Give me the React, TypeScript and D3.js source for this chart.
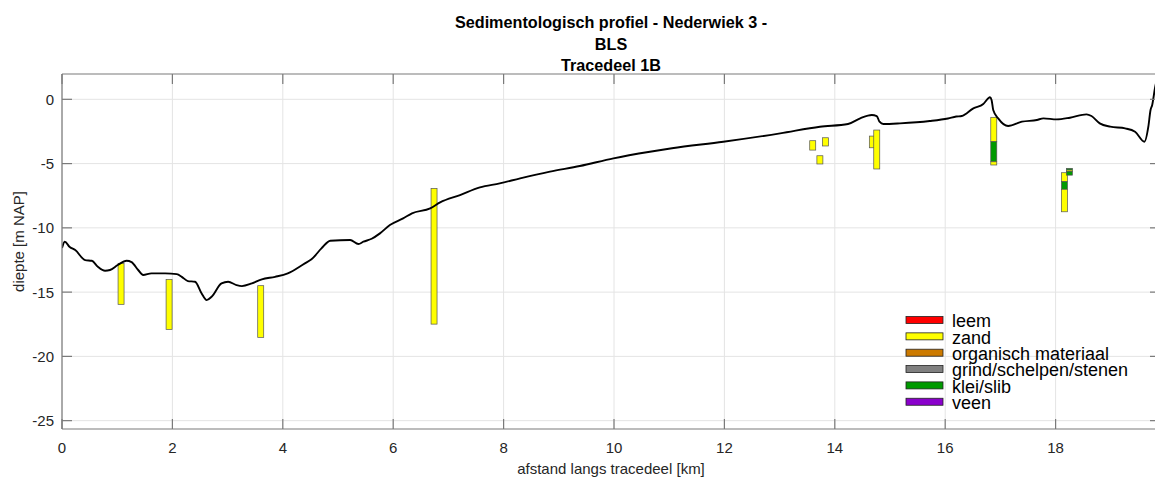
import React from 'react';
import * as d3 from 'd3';

// seabed profile (km along trace, m NAP)
const profileKm = [
  0.0, 0.05, 0.14, 0.24, 0.42, 0.54, 0.65, 0.78, 0.87, 1.01, 1.17, 1.26, 1.38, 1.47, 1.62, 1.87,
  2.08, 2.17, 2.28, 2.41, 2.53, 2.62, 2.71, 2.89, 3.01, 3.16, 3.26, 3.44, 3.62, 3.86, 4.09, 4.4,
  4.52, 4.7, 4.86, 5.22, 5.37, 5.46, 5.61, 5.76, 5.94, 6.18, 6.34, 6.67, 6.85, 7.21, 7.57, 7.93,
  8.3, 8.84, 9.38, 9.99, 10.65, 11.05, 11.98, 13.01, 13.73, 14.24, 14.46, 14.67, 14.76, 14.81,
  14.88, 15.18, 15.72, 16.05, 16.2, 16.3, 16.51, 16.69, 16.78, 16.81, 16.84, 16.87, 16.96, 17.14,
  17.39, 17.66, 17.78, 18.02, 18.26, 18.56, 18.65, 18.8, 18.99, 19.26, 19.44, 19.61, 19.68, 19.72,
  19.75, 19.8, 19.86,
];
const profileDepth = [
  -11.57, -11.08, -11.49, -11.73, -12.51, -12.56, -13.03, -13.34, -13.28, -12.89, -12.56, -12.66,
  -13.28, -13.67, -13.54, -13.54, -13.6, -13.81, -14.14, -14.19, -15.1, -15.62, -15.36, -14.32,
  -14.19, -14.45, -14.53, -14.32, -14.01, -13.81, -13.54, -12.76, -12.45, -11.6, -11.0, -10.95,
  -11.26, -11.08, -10.85, -10.43, -9.78, -9.26, -8.87, -8.48, -8.02, -7.45, -6.85, -6.54, -6.15,
  -5.63, -5.19, -4.59, -4.08, -3.81, -3.3, -2.65, -2.13, -1.92, -1.48, -1.22, -1.3, -1.74, -1.92,
  -1.87, -1.69, -1.49, -1.34, -1.3, -0.7, -0.37, 0.08, 0.16, -0.05, -0.83, -1.48, -2.08, -1.74,
  -1.61, -1.48, -1.56, -1.43, -1.17, -1.3, -1.87, -2.13, -2.26, -2.52, -3.3, -2.13, -0.83, -0.44,
  0.86, 2.0,
];

const xTicks = [0, 2, 4, 6, 8, 10, 12, 14, 16, 18];
const yTicks = [0, -5, -10, -15, -20, -25];

const soilNames = ['leem', 'zand', 'organisch materiaal', 'grind/schelpen/stenen', 'klei/slib', 'veen'];
const soilColors = ['#ff0000', '#ffff00', '#cc7a00', '#808080', '#009a00', '#8a00cc'];

// borehole positions (km)
const boreKm = [1.07, 1.94, 3.6, 6.74, 13.6, 13.83, 13.73, 14.68, 14.76, 16.88, 18.16, 18.25];
// layers: [borehole, top, bottom, soil]
const boreLayers = [
  [0, -12.76, -15.95, 1],
  [1, -14.01, -17.9, 1],
  [2, -14.5, -18.52, 1],
  [3, -6.93, -17.49, 1],
  [4, -3.22, -3.95, 1],
  [5, -2.99, -3.63, 1],
  [6, -4.39, -5.03, 1],
  [7, -2.86, -3.77, 1],
  [8, -2.39, -5.42, 1],
  [9, -1.4, -3.3, 1],
  [9, -3.3, -4.86, 4],
  [9, -4.86, -5.11, 1],
  [10, -5.71, -6.41, 1],
  [10, -6.41, -7.0, 4],
  [10, -7.0, -8.75, 1],
  [11, -5.37, -5.5, 4],
  [11, -5.5, -5.6, 1],
  [11, -5.6, -5.9, 4],
];

const W = 1155;
const H = 477;
const left = 62;
const right = 1160;
const top = 74;
const bottom = 429;
const font = 'Liberation Sans, Arial, Helvetica, sans-serif';
const txt = '#262626';

export default function App() {
  const x = d3.scaleLinear().domain([0, (right - left) / 55.2]).range([left, right]);
  const y = d3.scaleLinear().domain([-25.65, 1.97]).range([bottom, top]);

  const line = d3
    .line<number>()
    .x((d, i) => x(profileKm[i]))
    .y((d) => y(d))
    .curve(d3.curveMonotoneX);

  const barW = 6;
  const tick = 10;

  return (
    <svg
      width={W}
      height={H}
      style={{ position: 'absolute', left: 0, top: 0, background: '#fff' }}
      fontFamily={font}
    >
      <defs>
        <clipPath id="plot">
          <rect x={left} y={top} width={right - left} height={bottom - top} />
        </clipPath>
      </defs>
      <rect x={0} y={0} width={W} height={H} fill="#fff" />

      {/* grid */}
      <g stroke="#e4e4e4" strokeWidth={1}>
        {xTicks.map((t) => (
          <line key={'gx' + t} x1={x(t)} x2={x(t)} y1={top} y2={bottom} />
        ))}
        {yTicks.map((t) => (
          <line key={'gy' + t} x1={left} x2={right} y1={y(t)} y2={y(t)} />
        ))}
      </g>

      {/* boreholes */}
      <g clipPath="url(#plot)">
        {boreLayers.map((l, i) => (
          <rect
            key={'b' + i}
            x={x(boreKm[l[0]]) - barW / 2}
            y={y(l[1])}
            width={barW}
            height={y(l[2]) - y(l[1])}
            fill={soilColors[l[3]]}
            stroke="#555"
            strokeWidth={0.7}
          />
        ))}
        <path d={line(profileDepth) || ''} fill="none" stroke="#000" strokeWidth={1.9} />
      </g>

      {/* axes box and ticks */}
      <g stroke="#7a7a7a" strokeWidth={1.2} fill="none">
        <line x1={left} x2={right} y1={bottom} y2={bottom} />
        <line x1={left} x2={right} y1={top} y2={top} />
        <line x1={left} x2={left} y1={top} y2={bottom} />
        <line x1={right} x2={right} y1={top} y2={bottom} />
        {xTicks.map((t) => (
          <g key={'tx' + t}>
            <line x1={x(t)} x2={x(t)} y1={bottom} y2={bottom - tick} />
            <line x1={x(t)} x2={x(t)} y1={top} y2={top + tick} />
          </g>
        ))}
        {yTicks.map((t) => (
          <g key={'ty' + t}>
            <line x1={left} x2={left + tick} y1={y(t)} y2={y(t)} />
            <line x1={right} x2={right - tick} y1={y(t)} y2={y(t)} />
          </g>
        ))}
      </g>

      {/* tick labels */}
      <g fill={txt} fontSize={15}>
        {xTicks.map((t) => (
          <text key={'lx' + t} x={x(t)} y={453} textAnchor="middle">
            {t}
          </text>
        ))}
        {yTicks.map((t) => (
          <text key={'ly' + t} x={54} y={y(t) + 5.4} textAnchor="end">
            {t}
          </text>
        ))}
      </g>

      {/* axis labels */}
      <text x={(left + right) / 2} y={474} textAnchor="middle" fontSize={15} fill={txt}>
        afstand langs tracedeel [km]
      </text>
      <text
        transform={`translate(24,${241.5}) rotate(-90)`}
        textAnchor="middle"
        fontSize={15}
        fill={txt}
      >
        diepte [m NAP]
      </text>

      {/* title */}
      <g fontSize={16.2} fontWeight="bold" fill="#000" textAnchor="middle">
        <text x={(left + right) / 2} y={28}>Sedimentologisch profiel - Nederwiek 3 -</text>
        <text x={(left + right) / 2} y={49.5}>BLS</text>
        <text x={(left + right) / 2} y={70.5}>Tracedeel 1B</text>
      </g>

      {/* legend */}
      <g>
        {soilNames.map((s, i) => {
          const cy = 320 + i * 16.35;
          return (
            <g key={'lg' + s}>
              <rect x={906} y={cy - 3.5} width={37} height={7} fill={soilColors[i]} stroke="#222" strokeWidth={0.8} />
              <text x={952} y={cy + 7.2} fontSize={18} fill="#000">
                {s}
              </text>
            </g>
          );
        })}
      </g>
    </svg>
  );
}
